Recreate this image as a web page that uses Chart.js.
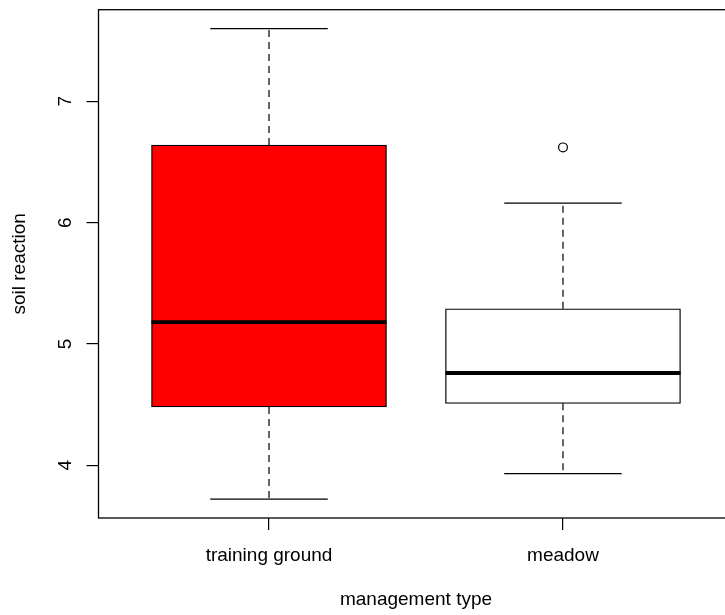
<!DOCTYPE html>
<html>
<head>
<meta charset="utf-8">
<script src="https://cdn.jsdelivr.net/npm/chart.js@4/dist/chart.umd.min.js"></script>
<style>
  html, body { margin: 0; padding: 0; background: #fff; overflow: hidden; }
  body { width: 725px; height: 615px; }
  #wrap { width: 745px; height: 615px; }
</style>
</head>
<body>
<div id="wrap"><canvas id="c" width="745" height="615"></canvas></div>
<script>
// Soil reaction by management type: five-number summaries per group
const categories = ['training ground', 'meadow'];
const whiskerLow = [3.72, 3.93];
const lowerQuartile = [4.48, 4.51];
const medians = [5.18, 4.76];
const upperQuartile = [6.64, 5.29];
const whiskerHigh = [7.60, 6.16];
const outliers = [[], [6.62]];
const boxFills = ['#ff0000', '#ffffff'];
const yTicks = [4, 5, 6, 7];
const xTitle = 'management type';
const yTitle = 'soil reaction';

const FONT = '19px "Liberation Sans", Arial, Helvetica, sans-serif';

// y range padded by 4% of the data span, like base R graphics
const yLo = Math.min(...whiskerLow, ...outliers.flat());
const yHi = Math.max(...whiskerHigh, ...outliers.flat());
const yPad = (yHi - yLo) * 0.04;
const xLo = 0.5 - categories.length * 0.04;
const xHi = categories.length + 0.5 + categories.length * 0.04;

const boxData = categories.map((c, i) => ({ x: i + 1, y: [lowerQuartile[i], upperQuartile[i]] }));
const outlierData = [];
outliers.forEach((list, i) => list.forEach(v => outlierData.push({ x: i + 1, y: v })));

const boxplotPlugin = {
  id: 'boxplotParts',
  beforeDatasetsDraw(chart) {
    const ctx = chart.ctx;
    const xs = chart.scales.x, ys = chart.scales.y;
    const bars = chart.getDatasetMeta(0).data;
    ctx.save();
    categories.forEach((c, i) => {
      const cx = xs.getPixelForValue(i + 1);
      const half = bars[i].width / 4;
      // dashed whiskers
      ctx.strokeStyle = '#000';
      ctx.lineWidth = 1.2;
      ctx.setLineDash([7, 5]);
      ctx.beginPath();
      ctx.moveTo(cx, ys.getPixelForValue(upperQuartile[i]));
      ctx.lineTo(cx, ys.getPixelForValue(whiskerHigh[i]));
      ctx.moveTo(cx, ys.getPixelForValue(lowerQuartile[i]));
      ctx.lineTo(cx, ys.getPixelForValue(whiskerLow[i]));
      ctx.stroke();
      // staples
      ctx.setLineDash([]);
      ctx.beginPath();
      [whiskerHigh[i], whiskerLow[i]].forEach(v => {
        const py = ys.getPixelForValue(v);
        ctx.moveTo(cx - half, py);
        ctx.lineTo(cx + half, py);
      });
      ctx.stroke();
    });
    ctx.restore();
  },
  afterDatasetsDraw(chart) {
    const ctx = chart.ctx;
    const ys = chart.scales.y;
    const bars = chart.getDatasetMeta(0).data;
    ctx.save();
    ctx.strokeStyle = '#000';
    ctx.lineWidth = 3.8;
    ctx.lineCap = 'butt';
    categories.forEach((c, i) => {
      const b = bars[i];
      const py = ys.getPixelForValue(medians[i]);
      ctx.beginPath();
      ctx.moveTo(b.x - b.width / 2, py);
      ctx.lineTo(b.x + b.width / 2, py);
      ctx.stroke();
    });
    ctx.restore();
  },
  afterDraw(chart) {
    const ctx = chart.ctx;
    const a = chart.chartArea;
    const xs = chart.scales.x, ys = chart.scales.y;
    ctx.save();
    // plot frame
    ctx.strokeStyle = '#000';
    ctx.lineWidth = 1.3;
    ctx.strokeRect(a.left, a.top, a.right - a.left, a.bottom - a.top);
    ctx.fillStyle = '#000';
    ctx.font = FONT;
    // y tick labels, parallel to the axis
    ctx.textAlign = 'center';
    ctx.textBaseline = 'alphabetic';
    yTicks.forEach(v => {
      ctx.save();
      ctx.translate(a.left - 27.5, ys.getPixelForValue(v));
      ctx.rotate(-Math.PI / 2);
      ctx.fillText(String(v), 0, 0);
      ctx.restore();
    });
    // category labels
    categories.forEach((c, i) => {
      ctx.fillText(c, xs.getPixelForValue(i + 1), a.bottom + 43);
    });
    // axis titles
    ctx.fillText(xTitle, (a.left + a.right) / 2, a.bottom + 87);
    ctx.save();
    ctx.translate(a.left - 73.5, (a.top + a.bottom) / 2);
    ctx.rotate(-Math.PI / 2);
    ctx.fillText(yTitle, 0, 0);
    ctx.restore();
    ctx.restore();
  }
};

new Chart(document.getElementById('c'), {
  type: 'bar',
  data: {
    datasets: [
      {
        type: 'bar',
        data: boxData,
        backgroundColor: boxFills,
        borderColor: '#000',
        borderWidth: 1.3,
        borderSkipped: false,
        barThickness: 235,
        grouped: false,
        order: 2
      },
      {
        type: 'scatter',
        data: outlierData,
        pointStyle: 'circle',
        pointRadius: 4.4,
        pointBackgroundColor: 'rgba(0,0,0,0)',
        pointBorderColor: '#000',
        pointBorderWidth: 1.2,
        showLine: false,
        order: 1
      }
    ]
  },
  options: {
    responsive: false,
    devicePixelRatio: 1,
    animation: false,
    events: [],
    layout: { padding: { left: 0, top: 9.7, right: 11.5, bottom: 0 } },
    plugins: { legend: { display: false }, tooltip: { enabled: false } },
    scales: {
      x: {
        type: 'linear',
        position: 'bottom',
        min: xLo,
        max: xHi,
        offset: false,
        afterBuildTicks: s => { s.ticks = categories.map((c, i) => ({ value: i + 1 })); },
        afterFit: s => { s.height = 97; },
        ticks: { display: false },
        border: { display: false },
        grid: { offset: false, drawOnChartArea: false, drawTicks: true, tickLength: 12, color: '#000', lineWidth: 1.2 }
      },
      y: {
        type: 'linear',
        position: 'left',
        min: yLo - yPad,
        max: yHi + yPad,
        afterBuildTicks: s => { s.ticks = yTicks.map(v => ({ value: v })); },
        afterFit: s => { s.width = 98.5; },
        ticks: { display: false },
        border: { display: false },
        grid: { offset: false, drawOnChartArea: false, drawTicks: true, tickLength: 12, color: '#000', lineWidth: 1.2 }
      }
    }
  },
  plugins: [boxplotPlugin]
});
</script>
</body>
</html>
